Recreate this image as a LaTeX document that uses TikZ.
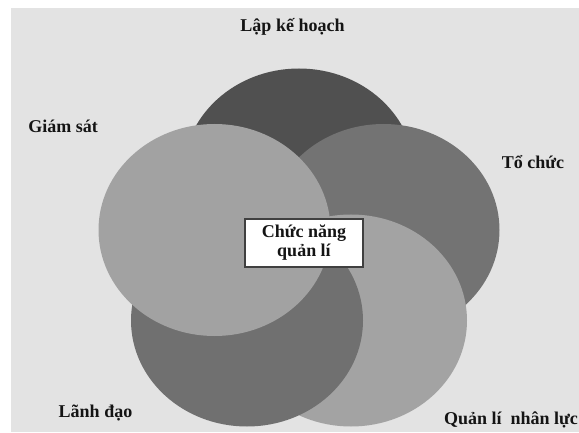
\documentclass[tikz,border=0pt]{standalone}
\usepackage{fontspec}
\setmainfont{Liberation Serif}
\definecolor{bgpanel}{HTML}{E3E3E3}
\definecolor{petalA}{HTML}{505050}
\definecolor{petalB}{HTML}{737373}
\definecolor{petalC}{HTML}{A3A3A3}
\definecolor{petalD}{HTML}{707070}
\definecolor{petalE}{HTML}{A2A2A2}
\definecolor{inktext}{HTML}{141414}
\begin{document}
\begin{tikzpicture}[x=1pt,y=-1pt,
  petal/.style={fill=#1},
  label/.style={anchor=base,inner sep=0pt,text=inktext,
    font=\bfseries\fontsize{18}{19}\selectfont},
  corebox/.style={draw=black!75,line width=1.2pt,fill=white,
    minimum width=118pt,minimum height=48pt,inner sep=0pt,align=center,
    text=inktext,font=\bfseries\fontsize{18}{19}\selectfont}]
  % page and grey panel
  \useasboundingbox (0,0) rectangle (579,433);
  \fill[bgpanel] (11,8) rectangle (579,432);
  % five overlapping petals, each laid over the previous one
  \path[petal=petalA] (299,174.5) ellipse [x radius=116pt, y radius=106pt];
  \path[petal=petalB] (383.5,230) ellipse [x radius=116pt, y radius=106pt];
  \path[petal=petalC] (351,320.5) ellipse [x radius=116pt, y radius=106pt];
  \path[petal=petalD] (247,320.5) ellipse [x radius=116pt, y radius=106pt];
  \path[petal=petalE] (214.5,230) ellipse [x radius=116pt, y radius=106pt];
  % centre box
  \node[corebox] (core) at (304,243) {Chức năng\\quản lí};
  % petal captions
  \node[label] (plan) at (292.5,31.7) {Lập kế hoạch};
  \node[label] (org) at (533,169) {Tổ chức};
  \node[label] (hr) at (511,424) {Quản lí\ \ nhân lực};
  \node[label] (lead) at (95.5,417) {Lãnh đạo};
  \node[label] (watch) at (63,133) {Giám sát};
\end{tikzpicture}
\end{document}
